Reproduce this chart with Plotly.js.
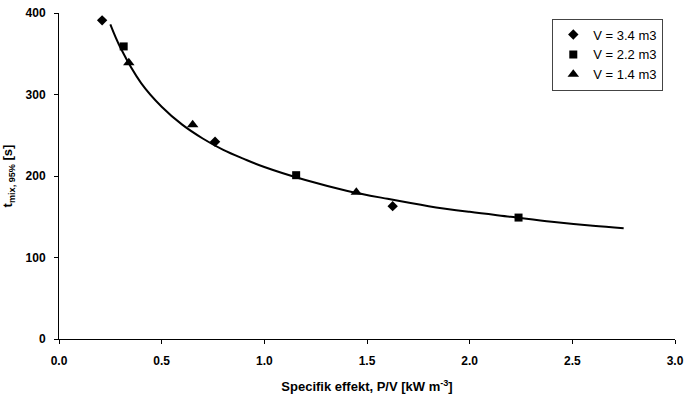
<!DOCTYPE html>
<html>
<head>
<meta charset="utf-8">
<script src="https://cdn.plot.ly/plotly-3.0.1.min.js"></script>
<style>html,body{margin:0;padding:0;background:#fff;}#chart{width:692px;height:401px;}</style>
</head>
<body>
<div id="chart"></div>
<script>
// Measured points
const seriesNames = ["V = 3.4 m3", "V = 2.2 m3", "V = 1.4 m3"];
const x34 = [0.21, 0.76, 1.625];
const y34 = [391, 242, 163];
const x22 = [0.315, 1.155, 2.238];
const y22 = [359, 201, 149];
const x14 = [0.34, 0.651, 1.448];
const y14 = [339, 263, 180];

// Fitted trend curve
const fitX = [0.25, 0.3, 0.4, 0.5, 0.6, 0.7, 0.8, 0.9, 1.0, 1.2, 1.4, 1.6, 1.8, 2.0, 2.2, 2.4, 2.6, 2.75];
const fitY = [386, 357, 314, 285, 263, 246, 232, 221, 211, 195, 182, 172, 163, 156, 150, 144, 139, 136];

// Axis ticks
const xTicks = [0, 0.5, 1.0, 1.5, 2.0, 2.5, 3.0];
const xTickText = ["0.0", "0.5", "1.0", "1.5", "2.0", "2.5", "3.0"];
const yTicks = [0, 100, 200, 300, 400];
const yTickText = ["0", "100", "200", "300", "400"];

const font = "Liberation Sans, Arial, sans-serif";
const bold = s => "<b>" + s + "</b>";

const traces = [
  {x: x34, y: y34, name: seriesNames[0], mode: "markers", type: "scatter",
   marker: {symbol: "diamond", size: 8, color: "#000"}},
  {x: x22, y: y22, name: seriesNames[1], mode: "markers", type: "scatter",
   marker: {symbol: "square", size: 8, color: "#000"}},
  {x: x14, y: y14, name: seriesNames[2], mode: "markers", type: "scatter",
   marker: {symbol: "triangle-up", size: 10, color: "#000"}},
  {x: fitX, y: fitY, mode: "lines", type: "scatter", showlegend: false,
   line: {color: "#000", width: 2, shape: "spline"}, hoverinfo: "skip"}
];

const layout = {
  width: 692, height: 401,
  margin: {l: 59, r: 17, t: 13, b: 62},
  paper_bgcolor: "#fff", plot_bgcolor: "#fff",
  font: {family: font, color: "#000"},
  showlegend: true,
  legend: {
    x: 0.981, xanchor: "right", y: 0.983, yanchor: "top",
    bordercolor: "#444", borderwidth: 1, bgcolor: "#fff",
    font: {family: font, size: 13, color: "#000"},
    itemwidth: 30, tracegroupgap: 0
  },
  xaxis: {
    range: [0, 3], tickvals: xTicks, ticktext: xTickText.map(bold),
    showgrid: false, zeroline: false, showline: true, linecolor: "#000", linewidth: 1,
    ticks: "outside", ticklen: 4, tickcolor: "#000", ticklabelstandoff: 7,
    tickfont: {family: font, size: 12, color: "#000"},
    title: {text: "<b>Specifik effekt, P/V [kW m<sup>-3</sup>]</b>", font: {family: font, size: 13, color: "#000"}, standoff: 14}
  },
  yaxis: {
    range: [0, 400], tickvals: yTicks, ticktext: yTickText.map(bold),
    showgrid: false, zeroline: false, showline: true, linecolor: "#000", linewidth: 1,
    ticks: "outside", ticklen: 4, tickcolor: "#000", ticklabelstandoff: 6,
    tickfont: {family: font, size: 12, color: "#000"},
    title: {text: "<b>t<sub>mix, 95%</sub> [s]</b>", font: {family: font, size: 13, color: "#000"}, standoff: 12}
  }
};

Plotly.newPlot("chart", traces, layout, {displayModeBar: false, staticPlot: true});
</script>
</body>
</html>
